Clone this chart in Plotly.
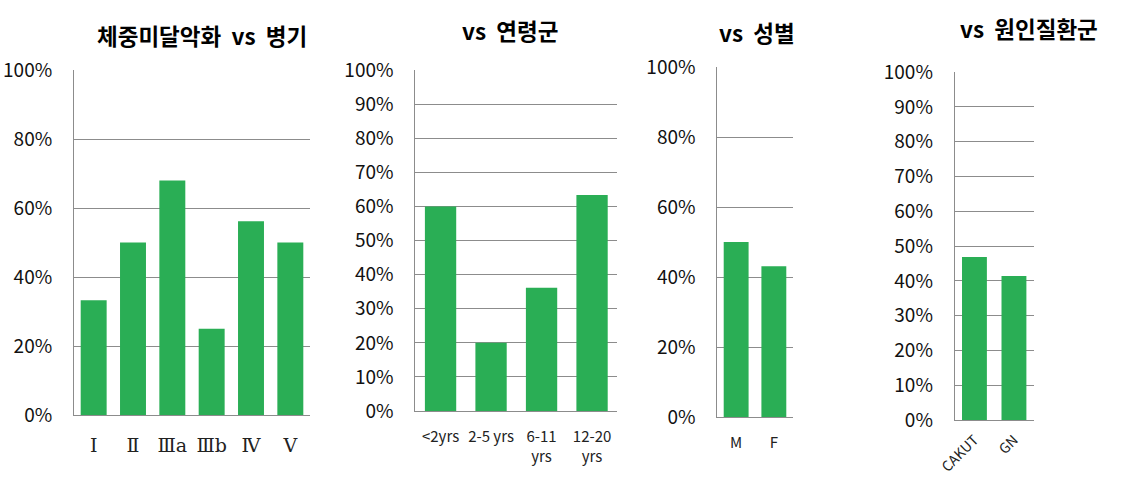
import plotly.graph_objects as go

W, H = 1127, 484

# ---- data ----
stage_cats = ["Ⅰ", "Ⅱ", "Ⅲa", "Ⅲb", "Ⅳ", "Ⅴ"]
stage_vals = [0.333, 0.50, 0.68, 0.25, 0.562, 0.50]

age_cats = ["<2yrs", "2-5 yrs", "6-11<br>yrs", "12-20<br>yrs"]
age_vals = [0.60, 0.20, 0.362, 0.634]

sex_cats = ["M", "F"]
sex_vals = [0.50, 0.431]

dis_cats = ["CAKUT", "GN"]
dis_vals = [0.469, 0.414]

titles = ["체중미달악화\u00a0\u00a0vs\u00a0\u00a0병기", "vs\u00a0\u00a0연령군", "vs\u00a0\u00a0성별", "vs\u00a0\u00a0원인질환군"]

GREEN = "#2AAE55"
GRID = "#8C8C8C"
FONT = "Noto Sans CJK KR"

# panel geometry in pixels: (x0, x1, ytop, ybottom)
panels = [
    (74, 310, 70, 415),
    (415.3, 617.3, 70.3, 411),
    (717.3, 792.7, 67, 417),
    (954.7, 1033.7, 72, 420.3),
]
title_pos = [(201.5, 35), (510, 30), (757, 32), (1028.5, 28)]
dticks = [0.2, 0.1, 0.2, 0.1]
xfont = [19, 15, 15, 14]
xfam = ["DejaVu Serif, " + FONT, FONT, FONT, FONT]
xangle = [0, 0, 0, -45]
xstand = [13, 12, 12, 5]
widths = [0.66, 0.62, 0.66, 0.63]

data = [(stage_cats, stage_vals), (age_cats, age_vals), (sex_cats, sex_vals), (dis_cats, dis_vals)]

fig = go.Figure()
layout = dict(
    width=W, height=H,
    margin=dict(l=0, r=0, t=0, b=0, autoexpand=False),
    paper_bgcolor="white", plot_bgcolor="white",
    showlegend=False,
    font=dict(family=FONT, color="#000000"),
    annotations=[],
)

for i, ((cats, vals), (x0, x1, yt, yb)) in enumerate(zip(data, panels)):
    k = "" if i == 0 else str(i + 1)
    fig.add_trace(go.Bar(
        x=cats, y=vals, xaxis="x" + k, yaxis="y" + k,
        marker=dict(color=GREEN, line=dict(width=0)),
        width=widths[i], hoverinfo="x+y",
    ))
    layout["xaxis" + k] = dict(
        domain=[x0 / W, x1 / W], anchor="y" + k, automargin=False,
        showgrid=False, showline=True, linecolor=GRID, linewidth=1,
        ticks="", tickfont=dict(size=xfont[i], family=xfam[i], color="#222"),
        tickangle=xangle[i], fixedrange=True,
        ticklabelstandoff=xstand[i],
    )
    layout["yaxis" + k] = dict(
        domain=[1 - yb / H, 1 - yt / H], anchor="x" + k, automargin=False,
        range=[0, 1.0001], dtick=dticks[i], tick0=0, tickformat=".0%",
        showgrid=True, gridcolor=GRID, gridwidth=1,
        showline=True, linecolor=GRID, linewidth=1, zeroline=False,
        ticks="", tickfont=dict(size=19, family=FONT, color="#111"),
        ticklabelstandoff=17, fixedrange=True,
    )
    tx, ty = title_pos[i]
    layout["annotations"].append(dict(
        text="<b>" + titles[i] + "</b>", x=tx / W, y=1 - ty / H,
        xref="paper", yref="paper", xanchor="center", yanchor="middle",
        showarrow=False, font=dict(size=22.5, family=FONT, color="#000"),
    ))

fig.update_layout(**layout)
fig.write_html("out.html")
